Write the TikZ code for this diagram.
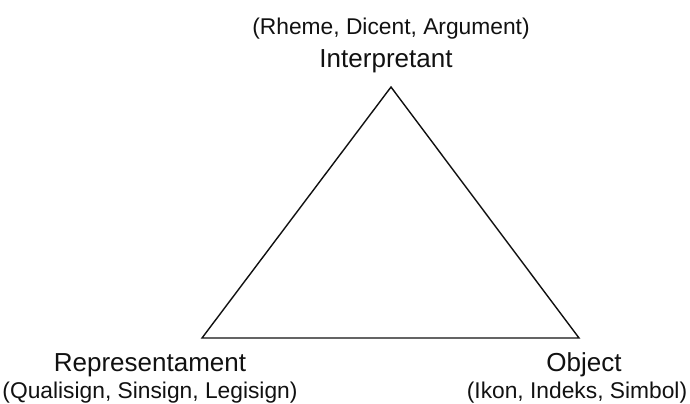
\documentclass[tikz,border=0pt]{standalone}
\usepackage{fontspec}
\setmainfont{Liberation Sans}
\usepackage{xcolor}
\definecolor{textcolor}{HTML}{111111}
\definecolor{edgecolor}{HTML}{111111}
\usetikzlibrary{positioning}
\tikzset{
    term/.style={
        text=textcolor,
        font=\fontsize{18.5}{20}\selectfont,
        inner sep=0pt,
        anchor=base,
    },
    classes/.style={
        text=textcolor,
        font=\fontsize{16.2}{18}\selectfont,
        inner sep=0pt,
        anchor=base,
    },
    edge/.style={
        draw=edgecolor,
        line width=1pt,
        line join=miter,
    },
}
\begin{document}
\begin{tikzpicture}[x=0.025cm, y=-0.025cm]
    \useasboundingbox (0,0) rectangle (690,403);

    % Triangle corners
    \coordinate (top) at (391,87);
    \coordinate (left) at (202,338);
    \coordinate (right) at (579,338);

    % Sign triangle
    \draw[edge] (top) -- (left) -- (right) -- cycle;

    % Interpretant (top)
    \node[term] (interp) at (386,67) {Interpretant};
    \node[classes] (interpcls) at (391,34) {(Rheme, Dicent, Argument)};

    % Representament (bottom left)
    \node[term] (repr) at (150,371) {Representament};
    \node[classes] (reprcls) at (150,398) {(Qualisign, Sinsign, Legisign)};

    % Object (bottom right)
    \node[term] (obj) at (584,371) {Object};
    \node[classes] (objcls) at (577,398) {(Ikon, Indeks, Simbol)};
\end{tikzpicture}
\end{document}
